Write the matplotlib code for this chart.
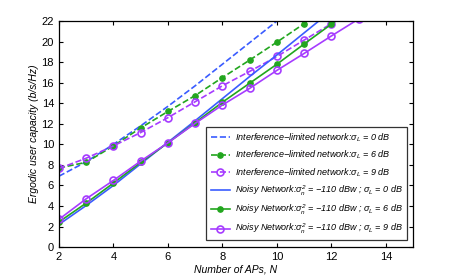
import matplotlib
matplotlib.use("Agg")
import matplotlib.pyplot as plt

# number of APs
n_aps = [2, 3, 4, 5, 6, 7, 8, 9, 10, 11, 12, 13]

# interference-limited network (dashed)
intf_0db = [6.9, 8.3, 10.0, 11.8, 13.7, 15.7, 17.8, 19.9, 22.0, 24.1, 26.2, 28.3]
intf_6db = [7.7, 8.25, 9.85, 11.6, 13.2, 14.75, 16.5, 18.2, 19.95, 21.75, 23.6, 25.4]
intf_9db = [7.65, 8.65, 9.85, 11.15, 12.6, 14.15, 15.7, 17.1, 18.55, 20.15, 21.75, 23.4]

# noisy network (solid)
noisy_0db = [2.2, 4.05, 6.0, 8.1, 10.2, 12.3, 14.45, 16.6, 18.7, 20.85, 23.0, 25.1]
noisy_6db = [2.45, 4.28, 6.23, 8.24, 10.15, 12.1, 14.1, 15.95, 17.8, 19.77, 21.7, 23.6]
noisy_9db = [2.7, 4.7, 6.49, 8.37, 10.15, 12.04, 13.83, 15.45, 17.2, 18.85, 20.55, 22.2]

BLUE = "#3a5cff"
GREEN = "#22a61e"
PURPLE = "#a63cff"

plt.rcParams["font.family"] = ["Liberation Sans", "DejaVu Sans"]
plt.rcParams["mathtext.fontset"] = "custom"
plt.rcParams["mathtext.it"] = "Liberation Sans:italic"
plt.rcParams["mathtext.rm"] = "Liberation Sans:italic"

fig, ax = plt.subplots(figsize=(4.57, 2.77), dpi=100)
fig.subplots_adjust(left=0.129, right=0.904, bottom=0.108, top=0.924)

lw = 1.2
ax.plot(n_aps, intf_0db, "--", color=BLUE, lw=lw,
        label=r"Interference$-$limited network:$\sigma_L$ = 0 dB")
ax.plot(n_aps, intf_6db, "--", color=GREEN, lw=lw, marker="o", ms=3.8,
        label=r"Interference$-$limited network:$\sigma_L$ = 6 dB")
ax.plot(n_aps, intf_9db, "--", color=PURPLE, lw=lw, marker="o", ms=5,
        mfc="none", mew=1.2,
        label=r"Interference$-$limited network:$\sigma_L$ = 9 dB")
ax.plot(n_aps, noisy_0db, "-", color=BLUE, lw=lw,
        label=r"Noisy Network:$\sigma_n^2$ = $-$110 dBw ; $\sigma_L$ = 0 dB")
ax.plot(n_aps, noisy_6db, "-", color=GREEN, lw=lw, marker="o", ms=3.8,
        label=r"Noisy Network:$\sigma_n^2$ = $-$110 dBw ; $\sigma_L$ = 6 dB")
ax.plot(n_aps, noisy_9db, "-", color=PURPLE, lw=lw, marker="o", ms=5,
        mfc="none", mew=1.2,
        label=r"Noisy Network:$\sigma_n^2$ = $-$110 dBw ; $\sigma_L$ = 9 dB")

ax.set_xlim(2, 15)
ax.set_ylim(0, 22)
ax.set_xticks(range(2, 15, 2))
ax.set_yticks(range(0, 23, 2))
ax.tick_params(direction="in", top=True, right=True, labelsize=8, length=3)
for sp in ax.spines.values():
    sp.set_linewidth(0.9)
ax.set_xlabel("Number of APs, N", fontsize=7.5, style="italic", labelpad=2)
ax.set_ylabel("Ergodic user capacity (b/s/Hz)", fontsize=7.5, style="italic", labelpad=2)

leg = ax.legend(loc="lower right", bbox_to_anchor=(0.982, 0.03),
                prop={"style": "italic", "size": 6.5}, frameon=True, fancybox=False,
                edgecolor="black", handlelength=2.2, handletextpad=0.5,
                borderpad=0.45, labelspacing=0.55, borderaxespad=0)
leg.get_frame().set_linewidth(0.9)

fig.savefig("out.png", dpi=100)
